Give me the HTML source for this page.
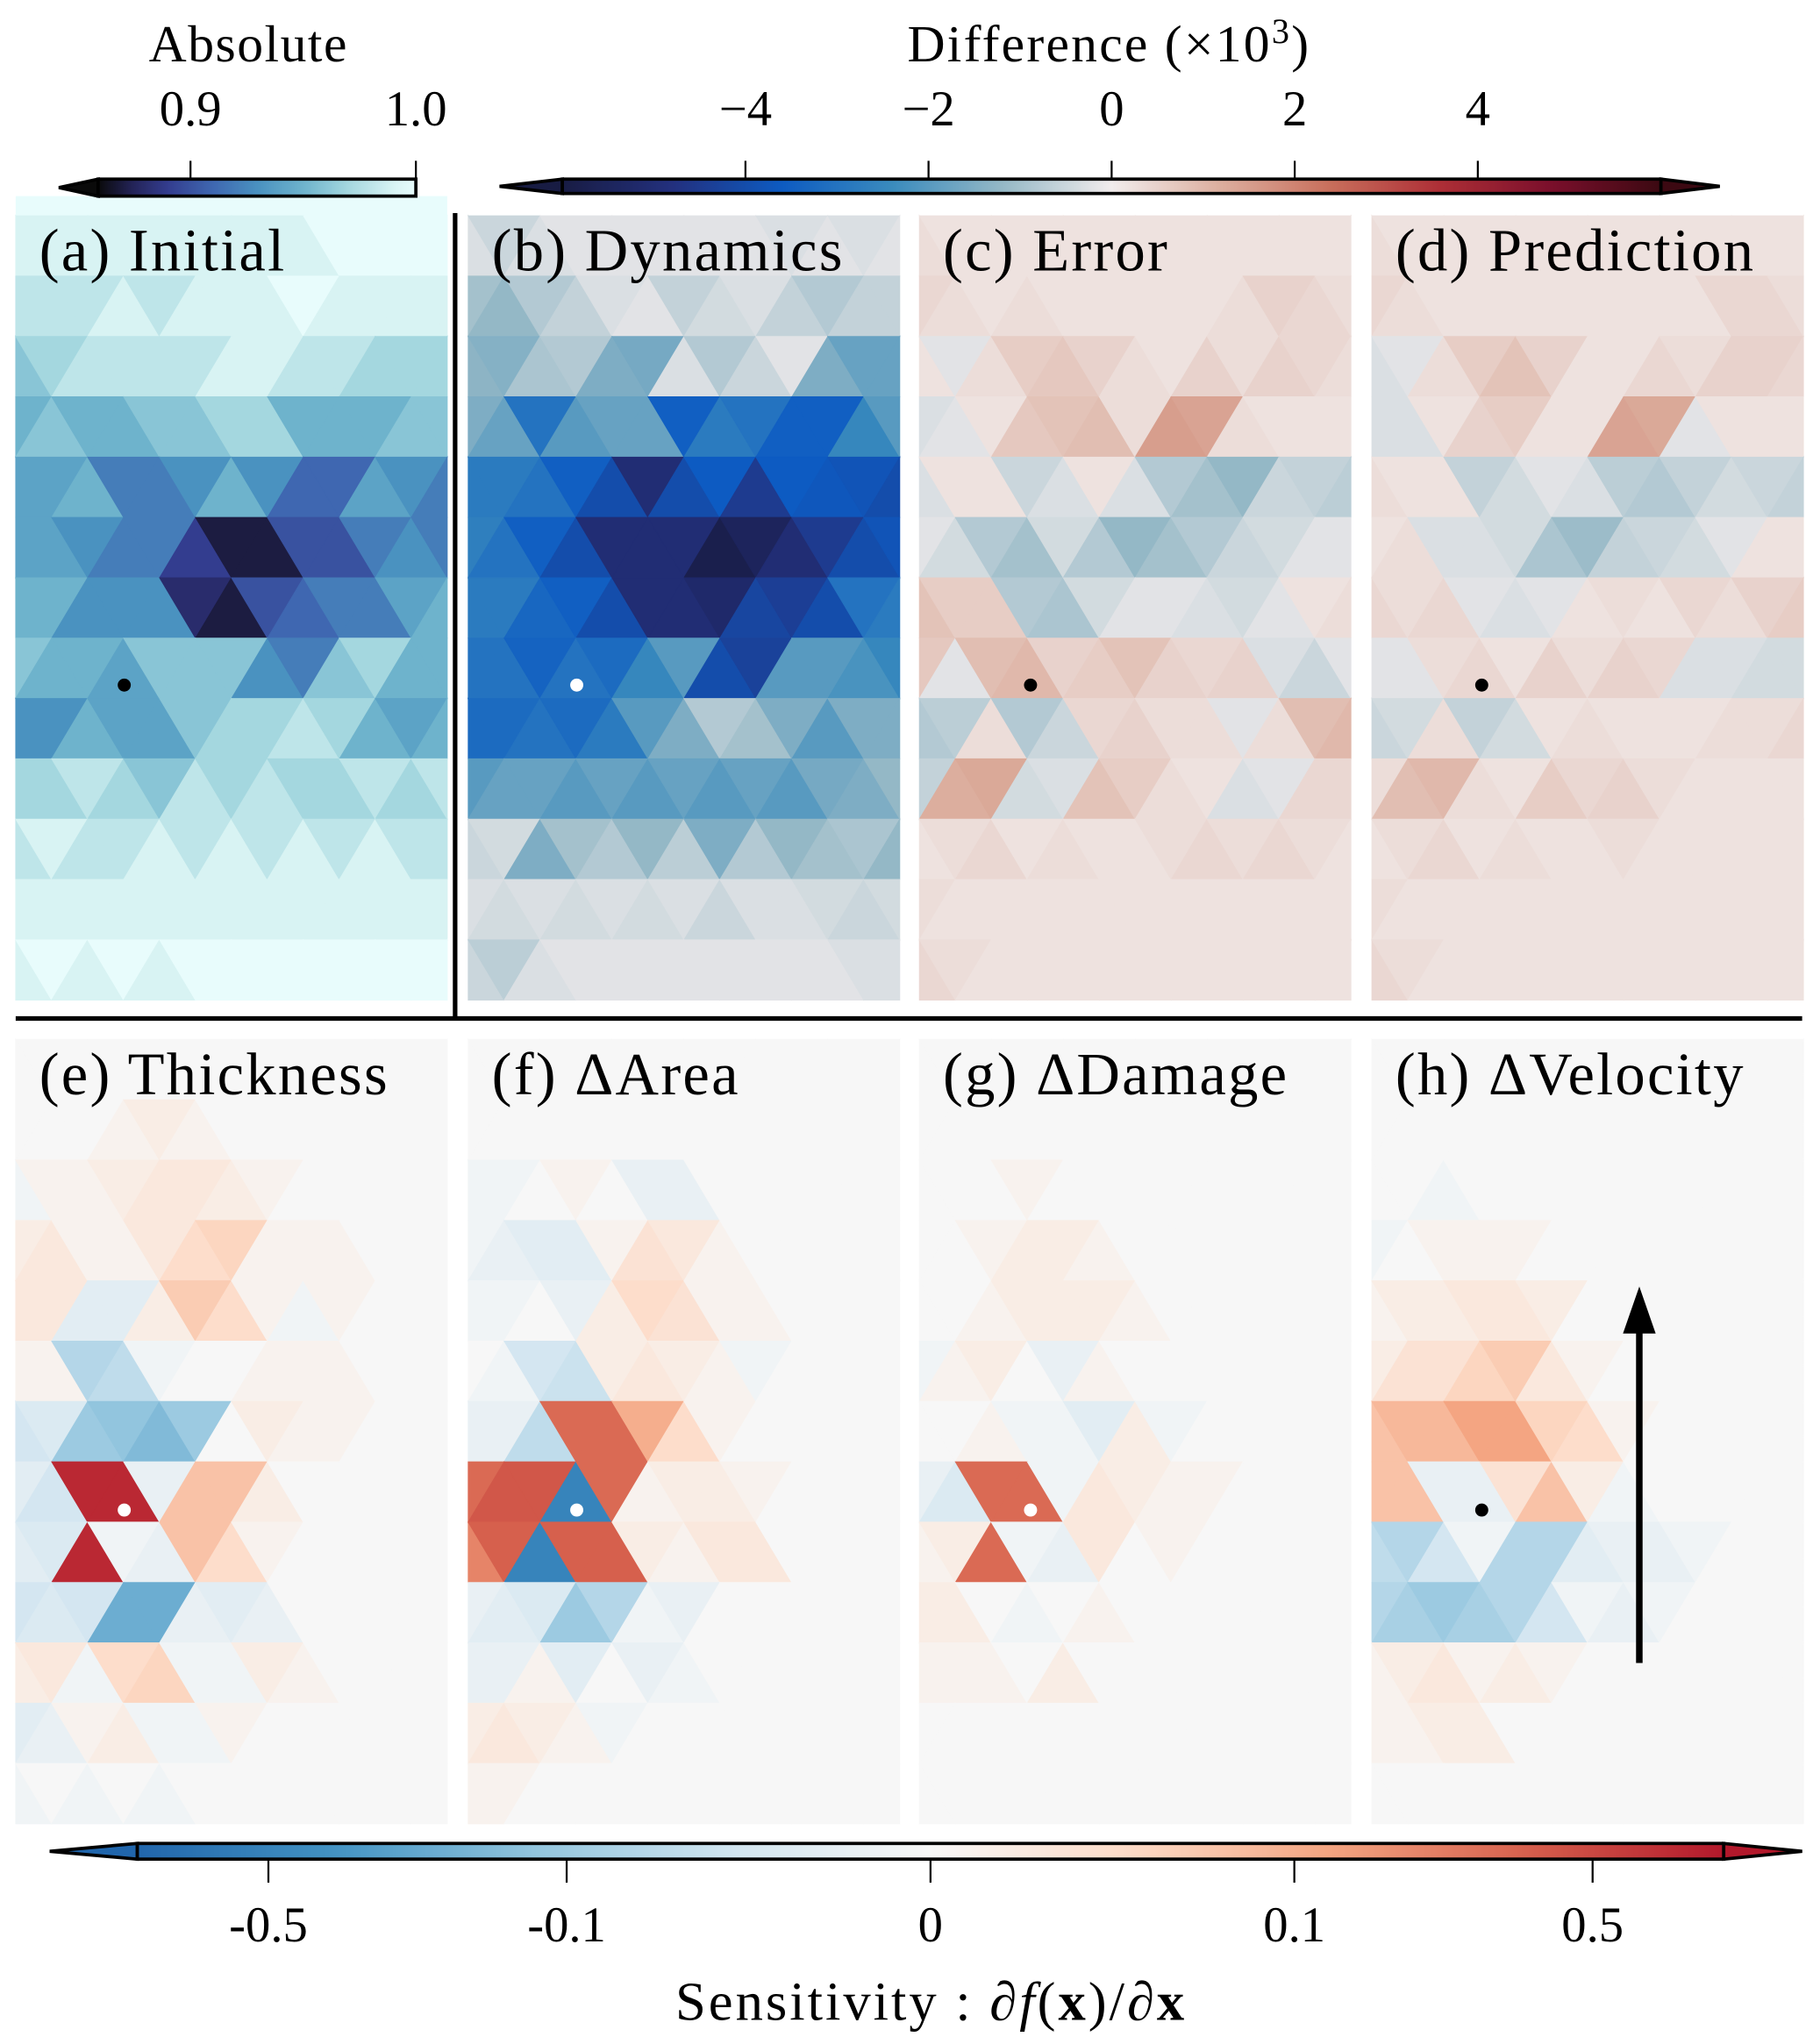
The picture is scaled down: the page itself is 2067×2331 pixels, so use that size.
<!DOCTYPE html>
<html><head><meta charset="utf-8"><title>Sensitivity panels</title>
<style>html,body{margin:0;padding:0;background:#fff}svg{display:block}text{font-family:"Liberation Serif",serif;fill:#000}</style>
</head><body>
<svg id="fig" width="2067" height="2331" viewBox="0 0 1386.3 1563.4" preserveAspectRatio="none" xmlns="http://www.w3.org/2000/svg">
<defs id="defs"></defs>
<g id="panels"></g>
<g id="overlay">
<line x1="348" y1="163" x2="348" y2="779" stroke="#000" stroke-width="3.5"/>
<line x1="12" y1="779" x2="1378" y2="779" stroke="#000" stroke-width="3.5"/>
<text x="190" y="47" font-size="40" text-anchor="middle" letter-spacing="1">Absolute</text>
<text x="848" y="47" font-size="40" text-anchor="middle" letter-spacing="1.5">Difference (×10<tspan dy="-14" font-size="27">3</tspan><tspan dy="14">)</tspan></text>
<text x="712" y="1545" font-size="42" text-anchor="middle" letter-spacing="2">Sensitivity : ∂<tspan font-style="italic">f</tspan>(<tspan font-weight="bold">x</tspan>)/∂<tspan font-weight="bold">x</tspan></text>
<polygon points="1251,1272 1256,1272 1256,1020 1266,1020 1253.5,984 1241,1020 1251,1020" fill="#000"/>
</g>
<g id="cbars"></g>
</svg>
<script>
// ---- data (triangle values per band, 13 bands x 13 triangles) ----
const panelA=[
[99,99,99,99,99,99,99,99,99,100,100,100,100],
[98,98,98,99,98,99,99,99,100,99,99,99,99],
[96,97,98,98,98,98,99,99,98,98,97,97,97],
[95,96,95,95,96,96,97,97,95,95,95,96,96],
[94,94,95,92,92,93,95,93,91,91,94,93,92],
[94,94,93,92,92,89,87,87,90,90,92,93,92],
[95,95,93,93,93,88,87,90,91,92,92,94,95],
[96,95,95,94,96,96,96,93,92,96,97,95,95],
[93,93,95,94,94,96,97,97,98,97,95,94,95],
[97,97,98,97,96,98,97,98,97,97,98,97,98],
[98,99,98,98,99,98,99,98,99,98,99,98,98],
[99,99,99,99,99,99,99,99,99,99,99,99,99],
[99,100,99,100,99,100,100,100,100,100,100,100,100]];
const panelB=[
[-0.3,-0.5,-0.3,-0.2,-0.2,-0.2,-0.2,-0.2,-0.2,-0.3,-0.2,-0.3,-0.2],
[-1,-1.2,-0.8,-0.6,-0.3,-0.2,-0.6,-0.4,-0.3,-0.6,-0.8,-0.6,-0.6],
[-1.3,-1.4,-0.9,-0.8,-1.5,-1.6,-0.3,-0.8,-0.5,-0.2,-1.5,-1.8,-1.8],
[-1.5,-1.8,-3,-2,-1.8,-1.8,-3.5,-2.8,-3,-3.5,-3.5,-2.5,-2],
[-2.8,-2.8,-3,-3.5,-4,-5,-4,-3.6,-4.5,-3.6,-3.7,-3.8,-4],
[-2.7,-3,-3.5,-4,-5,-5,-5,-5.8,-5.5,-5,-4.5,-4,-3.8],
[-2.8,-2.8,-3.3,-3.5,-4,-5,-5,-5.2,-4.2,-4.4,-4,-3,-2.8],
[-3,-3,-3.4,-3,-3.2,-2.5,-2,-4,-4.3,-2,-2,-2.2,-2.5],
[-3.2,-3.2,-3,-3.2,-2.8,-2,-1.5,-0.8,-1,-1.5,-2,-1.5,-1.5],
[-2,-1.8,-1.8,-2,-1.8,-2,-1.8,-2,-1.8,-2,-1.6,-1.5,-1.2],
[-0.5,-0.4,-1.5,-1,-0.8,-1.2,-0.7,-1.5,-0.8,-1.2,-1,-0.9,-1.2],
[-0.3,-0.4,-0.3,-0.4,-0.3,-0.4,-0.3,-0.5,-0.3,-0.3,-0.4,-0.5,-0.4],
[-0.5,-0.7,-0.3,-0.2,-0.2,-0.2,-0.2,-0.2,-0.2,-0.2,-0.2,-0.3,-0.3]];
const panelC=[
[0.3,0.2,0.2,0.2,0.2,0.2,0.2,0.2,0.2,0.2,0.2,0.2,0.2],
[0.4,0.3,0.2,0.3,0.2,0.2,0.2,0.2,0.2,0.3,0.5,0.4,0.3],
[0.2,-0.2,0.3,0.6,0.7,0.5,0.3,0.2,0.5,0.3,0.5,0.4,0.3],
[-0.3,-0.2,0.2,0.7,0.8,0.9,0.3,1.5,1.4,0.3,0.2,0.2,0.2],
[-0.3,0.2,0.2,-0.5,-0.3,0.2,-0.3,-0.8,-1,-1.2,-0.5,-0.6,-0.7],
[-0.2,-0.4,-0.8,-1,-0.4,-0.8,-1.2,-1,-0.8,-0.5,-0.4,-0.2,-0.2],
[0.8,0.6,0.6,-0.8,-0.9,-0.4,-0.2,-0.2,-0.3,-0.4,-0.2,0.2,0.3],
[0.7,-0.2,0.9,1,0.5,0.6,0.8,0.5,0.4,0.5,-0.3,-0.5,-0.2],
[-0.8,-0.7,0.3,-0.8,-0.5,0.4,0.5,0.3,0.3,-0.2,0.3,0.9,1],
[-0.6,1.2,1.3,-0.4,-0.3,0.8,0.6,0.3,0.2,-0.3,-0.2,0.4,0.4],
[0.2,0.3,0.4,0.2,0.3,0.2,0.2,0.3,0.4,0.3,0.4,0.3,0.2],
[0.3,0.2,0.2,0.2,0.2,0.2,0.2,0.2,0.2,0.2,0.2,0.2,0.2],
[0.4,0.3,0.2,0.2,0.2,0.2,0.2,0.2,0.2,0.2,0.2,0.2,0.2]];
const panelD=[
[0.3,0.2,0.2,0.2,0.2,0.2,0.2,0.2,0.2,0.2,0.2,0.2,0.2],
[0.4,0.3,0.2,0.2,0.2,0.2,0.2,0.2,0.2,0.2,0.4,0.4,0.3],
[-0.3,-0.2,0.3,0.6,0.8,0.5,0.2,0.2,0.4,0.3,0.5,0.5,0.4],
[-0.3,-0.3,0.2,0.5,0.6,0.2,0.2,1.4,1.3,-0.2,0.2,0.2,0.2],
[0.3,0.2,0.2,-0.6,-0.4,-0.2,-0.3,-0.7,-0.8,-0.6,-0.4,-0.5,-0.6],
[0.2,0.3,-0.3,-0.3,-0.4,-0.9,-1.1,-0.6,-0.5,-0.4,-0.2,0.2,0.2],
[0.4,0.3,0.4,-0.2,-0.3,-0.2,0.2,0.3,0.2,0.4,0.3,0.5,0.6],
[-0.2,-0.2,0.3,0.4,0.2,0.5,0.3,0.5,0.4,-0.3,-0.3,-0.4,-0.4],
[-0.5,-0.4,0.3,-0.6,-0.4,0.2,0.3,0.2,0.2,0.2,0.3,0.3,0.4],
[0.3,0.9,1,0.3,0.2,0.6,0.4,0.5,0.3,0.2,0.2,0.2,0.2],
[0.2,0.3,0.4,0.2,0.3,0.2,0.2,0.3,0.2,0.2,0.2,0.2,0.2],
[0.3,0.2,0.2,0.2,0.2,0.2,0.2,0.2,0.2,0.2,0.2,0.2,0.2],
[0.4,0.3,0.2,0.2,0.2,0.2,0.2,0.2,0.2,0.2,0.2,0.2,0.2]];
const panelE=[
[0,0,0,0,0,0,0,0,0,0,0,0,0],
[0,0,0,0.01,0.02,0.01,0,0,0,0,0,0,0],
[-0.01,0.01,0.01,0.02,0.03,0.03,0.02,0.01,0,0,0,0,0],
[0.02,0.03,0.01,0.01,0.03,0.05,0.06,0.01,0.01,0.01,0,0,0],
[0.03,0.03,-0.03,-0.03,0.02,0.07,0.05,0.01,-0.01,0.01,0,0,0],
[0.01,0.01,-0.08,-0.07,-0.01,0,0,0.01,0.01,0.01,0,0,0],
[-0.05,-0.04,-0.1,-0.12,-0.15,-0.1,0,0.02,0.01,0.01,0,0,0],
[-0.03,-0.05,0.8,0.8,-0.02,0.08,0.08,0.02,0,0,0,0,0],
[-0.03,-0.04,0.8,-0.01,-0.02,0.08,0.05,0.01,0,0,0,0,0],
[-0.05,-0.04,-0.05,-0.2,-0.2,-0.02,-0.03,-0.02,0,0,0,0,0],
[0.02,0.03,-0.01,0.05,0.06,-0.01,-0.01,0.02,0.01,0,0,0,0],
[-0.03,-0.02,0.01,0.02,-0.01,-0.01,0.01,0,0,0,0,0,0],
[-0.01,0,-0.01,0,-0.01,0,0,0,0,0,0,0,0]];
const panelF=[
[0,0,0,0,0,0,0,0,0,0,0,0,0],
[0,0,0,0,0,0,0,0,0,0,0,0,0],
[-0.01,-0.01,0,0.01,0,-0.02,-0.02,0,0,0,0,0,0],
[-0.01,-0.02,-0.03,-0.03,0.01,0.04,0.03,0.01,0,0,0,0,0],
[-0.01,-0.01,0,-0.02,0.02,0.05,0.04,0.01,0.01,0,0,0,0],
[0,-0.01,-0.05,-0.06,0.02,0.03,0.02,0.01,-0.01,0,0,0,0],
[-0.02,-0.02,-0.07,0.3,0.3,0.1,0.05,0.01,0,0,0,0,0],
[0.3,0.4,0.4,-0.5,0.3,0.01,0.02,0.02,0.01,0,0,0,0],
[0.2,0.35,-0.5,0.35,0.35,0.02,0.01,0.03,0.03,0,0,0,0],
[-0.02,-0.03,-0.04,-0.1,-0.08,-0.01,-0.02,0,0,0,0,0,0],
[-0.02,-0.02,0.01,-0.03,0,-0.02,-0.01,0,0,0,0,0,0],
[0.02,0.03,0.02,0.01,-0.01,0,0,0,0,0,0,0,0],
[0.01,0.01,0,0,0,0,0,0,0,0,0,0,0]];
const panelG=[
[0,0,0,0,0,0,0,0,0,0,0,0,0],
[0,0,0,0,0,0,0,0,0,0,0,0,0],
[0,0,0,0.01,0,0,0,0,0,0,0,0,0],
[0,0,0.01,0.02,0.02,0.01,0,0,0,0,0,0,0],
[0,0,0.01,0.02,0.02,0.02,0.01,0,0,0,0,0,0],
[-0.01,0.01,0.02,0,-0.02,0.01,0,0,0,0,0,0,0],
[0,0,0.01,-0.01,-0.01,-0.03,0.02,-0.01,0,0,0,0,0],
[-0.02,-0.04,0.3,0.3,-0.01,0.03,0.02,0.01,0.01,0,0,0,0],
[0.01,0.02,0.3,-0.01,-0.02,0.03,0,0.01,0,0,0,0,0],
[0.02,0.02,0,-0.01,0,0.01,0,0,0,0,0,0,0],
[0.01,0.01,0.01,0,0.02,0,0,0,0,0,0,0,0],
[0,0,0,0,0,0,0,0,0,0,0,0,0],
[0,0,0,0,0,0,0,0,0,0,0,0,0]];
const panelH=[
[0,0,0,0,0,0,0,0,0,0,0,0,0],
[0,0,0,0,0,0,0,0,0,0,0,0,0],
[0,0,-0.01,0,0,0,0,0,0,0,0,0,0],
[-0.01,0,0.01,0.01,0.01,0,0,0,0,0,0,0,0],
[0.01,0.02,0.02,0.03,0.03,0.02,0,0,0,0,0,0,0],
[0.02,0.04,0.04,0.06,0.07,0.03,0.01,0,0,0,0,0,0],
[0.08,0.09,0.09,0.12,0.12,0.06,0.05,0.01,0,0,0,0,0],
[0.08,0.08,-0.02,-0.02,0.04,0.08,0.02,-0.01,0,0,0,0,0],
[-0.07,-0.08,-0.05,-0.01,-0.08,-0.08,-0.03,-0.02,-0.02,-0.01,0,0,0],
[-0.08,-0.09,-0.1,-0.09,-0.08,-0.05,-0.01,-0.02,-0.01,0,0,0,0],
[0.01,0.02,0.03,0.01,0.02,0.01,0,0,0,0,0,0,0],
[0.01,0.01,0.02,0.02,0,0,0,0,0,0,0,0,0],
[0,0,0,0,0,0,0,0,0,0,0,0,0]];
const absTicks=[0.9,1.0];
const absTickLabels=["0.9","1.0"];
const diffTicks=[-4,-2,0,2,4];
const diffTickLabels=["−4","−2","0","2","4"];
const sensTicks=[-0.5,-0.1,0,0.1,0.5];
const sensTickLabels=["-0.5","-0.1","0","0.1","0.5"];

// ---- colormaps ----
function hex(h){return [parseInt(h.substr(1,2),16),parseInt(h.substr(3,2),16),parseInt(h.substr(5,2),16)];}
function interp(stops,v){
  if(v<=stops[0][0])return stops[0][1];
  for(let i=1;i<stops.length;i++){if(v<=stops[i][0]){const a=stops[i-1],b=stops[i];const t=(v-a[0])/(b[0]-a[0]);const ca=hex(a[1]),cb=hex(b[1]);return 'rgb('+ca.map((c,k)=>Math.round(c+(cb[k]-c)*t)).join(',')+')';}}
  return stops[stops.length-1][1];
}
const absStops=[[85.9,'#0a0a0a'],[87.5,'#24245a'],[89,'#333d8f'],[91,'#3f67b1'],[93,'#4a92c0'],[95,'#6eb3cc'],[97,'#a4d7df'],[99,'#d8f3f3'],[100,'#e8fcfc']];
const balStops=[[-6,'#181c43'],[-4.8,'#23307e'],[-3.6,'#0d5bc2'],[-2.4,'#3a8bbd'],[-1.2,'#94b8c6'],[0,'#f1ecec'],[1.2,'#dcae9e'],[2.4,'#c86e5b'],[3.6,'#ad2e36'],[4.8,'#7a0f2b'],[6,'#3c0912']];
const rdbuStops=[[-1,'#2166ac'],[-0.75,'#4393c3'],[-0.5,'#92c5de'],[-0.25,'#d1e5f0'],[0,'#f7f7f7'],[0.25,'#fddbc7'],[0.5,'#f4a582'],[0.75,'#d6604d'],[1,'#b2182b']];
function symlog(v){const a=Math.abs(v);let s=a<=0.1?(a/0.1)*0.4587:0.4587+Math.log10(a/0.1)*0.538;return Math.sign(v)*Math.min(s,1);}
const cAbs=v=>interp(absStops,v), cBal=v=>interp(balStops,v), cSens=v=>interp(rdbuStops,symlog(v));

// ---- mesh drawing ----
const NS='http://www.w3.org/2000/svg';
function mk(tag,attrs,parent){const e=document.createElementNS(NS,tag);for(const k in attrs)e.setAttribute(k,attrs[k]);parent.appendChild(e);return e;}
function rowXs(off,W){const w=W/6;const xs=[];if(off===0){for(let k=0;k<=6;k++)xs.push(k*w);}else{xs.push(0);for(let k=0;k<6;k++)xs.push((k+0.5)*w);xs.push(W);}return xs;}
function drawPanel(name,x0,y0,W,H,vals,cmap,bg,title,dot,dotColor,bgTop){
  const g=mk('g',{},document.getElementById('panels'));
  
  
  const r=mk('rect',{x:x0,y:bgTop,width:W,height:y0+H-bgTop,fill:bg},g);
  
  
  const nb=vals.length, h=H/nb;
  for(let b=0;b<nb;b++){
    const ot=b%2===0?0:1, ob=1-ot;
    const T=rowXs(ot,W).map(x=>({p:[x0+x,y0+b*h],off:ot}));
    const B=rowXs(ob,W).map(x=>({p:[x0+x,y0+(b+1)*h],off:ob}));
    const all=T.concat(B);
    // ties: at left edge the offset row first, at right edge the offset row last
    all.sort((a,c)=>{const d=a.p[0]-c.p[0];if(Math.abs(d)>1e-6)return d;const left=a.p[0]<x0+W/2;return left?(c.off-a.off):(a.off-c.off);});
    for(let i=0;i+2<all.length;i++){
      const v=vals[b][Math.min(i,vals[b].length-1)];
      const pts=[all[i].p,all[i+1].p,all[i+2].p].map(p=>p[0].toFixed(2)+','+p[1].toFixed(2)).join(' ');
      const col=cmap(v);
      const t=mk('polygon',{points:pts,fill:col,stroke:col,'stroke-width':0.6},g);
      
      
    }
  }
  const c=mk('circle',{cx:dot[0],cy:dot[1],r:5,fill:dotColor},g);
  
  
  const tx=mk('text',{x:x0+18,y:y0+42,'font-size':46,'letter-spacing':1.5},g);
  tx.textContent=title;
  
  
}
const PX=[12,358,703,1049], PW=330;
drawPanel('panel-initial',PX[0],165,PW,600,panelA,cAbs,'#e8fcfc','(a) Initial',[95,524],'#000',150);
drawPanel('panel-dynamics',PX[1],165,PW,600,panelB,cBal,'#efeae9','(b) Dynamics',[441,524],'#fff',165);
drawPanel('panel-error',PX[2],165,PW,600,panelC,cBal,'#f0e8e6','(c) Error',[788,524],'#000',165);
drawPanel('panel-prediction',PX[3],165,PW,600,panelD,cBal,'#f0e8e6','(d) Prediction',[1133,524],'#000',165);
drawPanel('panel-thickness',PX[0],795,PW,600,panelE,cSens,'#f5f6f6','(e) Thickness',[95,1155],'#fff',795);
drawPanel('panel-delta-area',PX[1],795,PW,600,panelF,cSens,'#f5f6f6','(f) ΔArea',[441,1155],'#fff',795);
drawPanel('panel-delta-damage',PX[2],795,PW,600,panelG,cSens,'#f5f6f6','(g) ΔDamage',[788,1155],'#fff',795);
drawPanel('panel-delta-velocity',PX[3],795,PW,600,panelH,cSens,'#f5f6f6','(h) ΔVelocity',[1133,1155],'#000',795);
document.getElementById('fig').appendChild(document.getElementById('overlay'));

// ---- colorbars ----
function colorbar(name,id,x0,x1,tipL,tipR,y0,y1,vmin,vmax,cmap){
  const g=mk('g',{},document.getElementById('cbars'));
  
  
  const defs=document.getElementById('defs');
  const lg=mk('linearGradient',{id:id,x1:0,x2:1,y1:0,y2:0},defs);
  for(let i=0;i<=60;i++){const v=vmin+(vmax-vmin)*i/60;mk('stop',{offset:(i/60).toFixed(3),'stop-color':cmap(v)},lg);}
  const ym=(y0+y1)/2;
  if(tipL!==null){const p=mk('polygon',{points:`${tipL},${ym} ${x0},${y0} ${x0},${y1}`,fill:cmap(vmin),stroke:'#000','stroke-width':2.5,'stroke-linejoin':'miter'},g);}
  if(tipR!==null){const p=mk('polygon',{points:`${tipR},${ym} ${x1},${y0} ${x1},${y1}`,fill:cmap(vmax),stroke:'#000','stroke-width':2.5},g);}
  const r=mk('rect',{x:x0,y:y0,width:x1-x0,height:y1-y0,fill:`url(#${id})`,stroke:'#000','stroke-width':2.5},g);
  
  
  return {g,pos:v=>x0+(v-vmin)/(vmax-vmin)*(x1-x0)};
}
let cb=colorbar('absolute-colorbar','gAbs',75,318,45,null,137,150,85.9,100,cAbs);
absTicks.forEach((t,i)=>{const x=cb.pos(t*100);const l=mk('line',{x1:x,x2:x,y1:123,y2:137,stroke:'#000','stroke-width':1.5},cb.g);const tx=mk('text',{x:x,y:96,'font-size':38,'text-anchor':'middle'},cb.g);tx.textContent=absTickLabels[i];});
cb=colorbar('difference-colorbar','gBal',430,1270,382,1315,137,148,-6,6,cBal);
diffTicks.forEach((t,i)=>{const x=cb.pos(t);const l=mk('line',{x1:x,x2:x,y1:123,y2:137,stroke:'#000','stroke-width':1.5},cb.g);const tx=mk('text',{x:x,y:96,'font-size':38,'text-anchor':'middle'},cb.g);tx.textContent=diffTickLabels[i];});
cb=colorbar('sensitivity-colorbar','gSens',105,1318,38,1378,1410,1422,-1,1,s=>interp(rdbuStops,s));
sensTicks.forEach((t,i)=>{const x=105+(symlog(t)+1)/2*(1318-105);const l=mk('line',{x1:x,x2:x,y1:1422,y2:1440,stroke:'#000','stroke-width':1.5},cb.g);const tx=mk('text',{x:x,y:1485,'font-size':38,'text-anchor':'middle'},cb.g);tx.textContent=sensTickLabels[i];});
</script>
</body></html>
